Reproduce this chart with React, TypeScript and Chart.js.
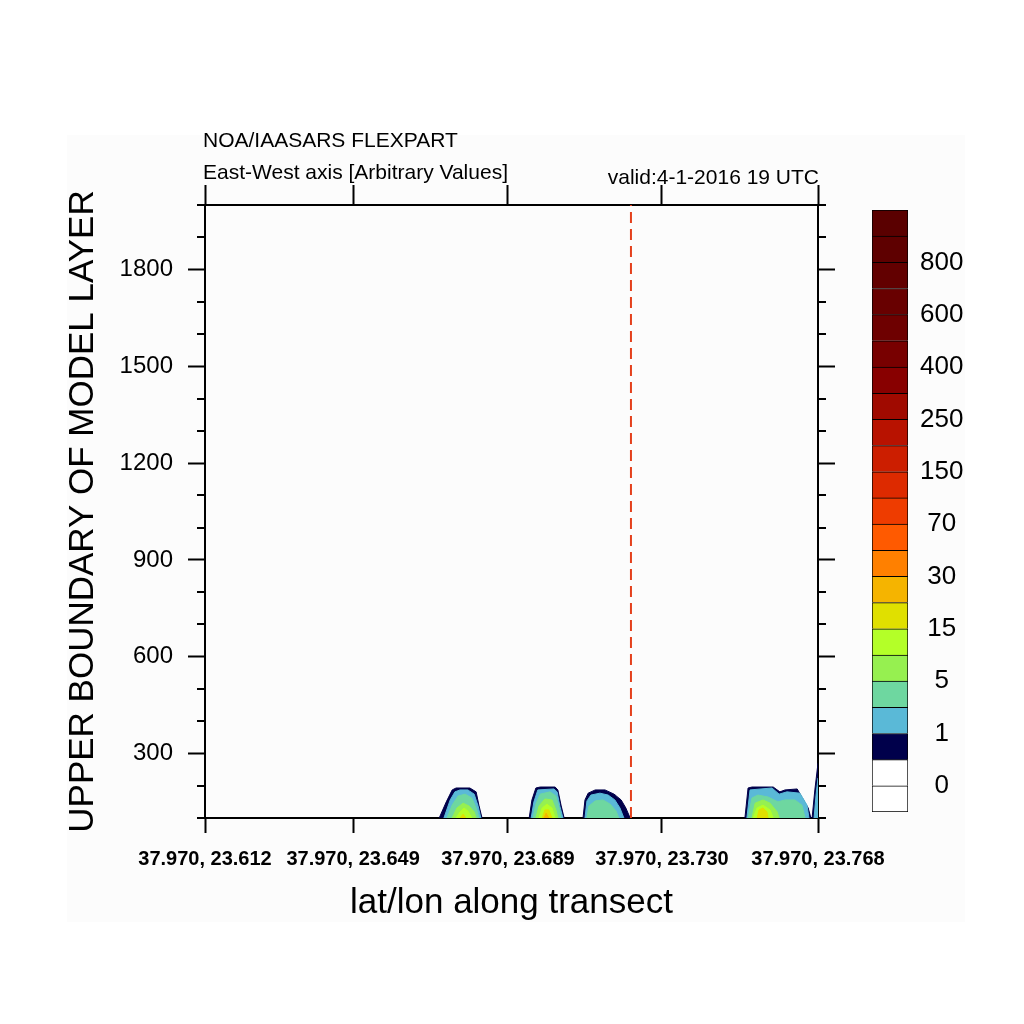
import React, { useEffect, useRef } from "react";
import { Chart, registerables } from "chart.js";

Chart.register(...registerables);

const FONT = "'Liberation Sans', Arial, Helvetica, sans-serif";

// ---- axes ----
const xMinLon = 23.612;
const xMaxLon = 23.768;
const yMin = 100;
const yMax = 2000;
const xTickLons = [23.612, 23.6497, 23.6891, 23.7283, 23.768];
const xTickLabels = [
  "37.970, 23.612",
  "37.970, 23.649",
  "37.970, 23.689",
  "37.970, 23.730",
  "37.970, 23.768",
];
const yMajorTicks = [300, 600, 900, 1200, 1500, 1800];
const yMinorTicks = [100, 200, 400, 500, 700, 800, 1000, 1100, 1300, 1400, 1600, 1700, 1900, 2000];
const markerLon = 23.7204;

// ---- texts ----
const headerTitle = "NOA/IAASARS FLEXPART";
const headerSubtitle = "East-West axis [Arbitrary Values]";
const validLabel = "valid:4-1-2016 19 UTC";
const xAxisTitle = "lat/lon along transect";
const yAxisTitle = "UPPER BOUNDARY OF MODEL LAYER";

// ---- contour outlines: [lon, height] per plume, one array per level ----
type Pt = [number, number];

const levelNavy: Pt[][] = [
  [[23.6716, 100], [23.6734, 150], [23.6749, 187], [23.6759, 193], [23.6794, 193], [23.681, 181], [23.6817, 140], [23.6825, 100]],
  [[23.6945, 100], [23.6952, 156], [23.6962, 193], [23.6973, 196], [23.7011, 196], [23.7018, 187], [23.7026, 140], [23.7034, 100]],
  [[23.7082, 100], [23.7087, 156], [23.7095, 177], [23.7113, 187], [23.7138, 187], [23.7161, 174], [23.7179, 156], [23.7191, 131], [23.7202, 100]],
  [[23.7494, 100], [23.7502, 193], [23.7512, 196], [23.7566, 196], [23.7583, 181], [23.7596, 187], [23.7627, 190], [23.7639, 165], [23.7655, 131], [23.7662, 100]],
  [[23.7665, 100], [23.7672, 187], [23.768, 270]],
];
const levelBlue: Pt[][] = [
  [[23.6728, 100], [23.6744, 156], [23.6756, 181], [23.6769, 187], [23.6789, 187], [23.6805, 174], [23.6815, 137], [23.6822, 100]],
  [[23.695, 100], [23.6957, 150], [23.6967, 187], [23.7008, 190], [23.7016, 181], [23.7023, 137], [23.7031, 100]],
  [[23.7087, 100], [23.7092, 153], [23.7102, 171], [23.7125, 177], [23.7146, 171], [23.7163, 156], [23.7176, 131], [23.7186, 100]],
  [[23.7499, 100], [23.7507, 187], [23.7563, 193], [23.7581, 174], [23.7601, 181], [23.7634, 177], [23.7652, 140], [23.7657, 100]],
  [[23.767, 100], [23.7675, 171], [23.768, 224]],
];
const levelTeal: Pt[][] = [
  [[23.6736, 100], [23.6749, 140], [23.6764, 168], [23.6782, 174], [23.6799, 162], [23.681, 131], [23.6817, 100]],
  [[23.6955, 100], [23.6962, 143], [23.6973, 174], [23.6998, 181], [23.7013, 168], [23.7021, 131], [23.7026, 100]],
  [[23.7092, 100], [23.7097, 137], [23.7113, 153], [23.7133, 156], [23.7151, 143], [23.7166, 122], [23.7173, 100]],
  [[23.7502, 100], [23.7512, 162], [23.7527, 171], [23.7553, 165], [23.7578, 150], [23.7596, 156], [23.7621, 156], [23.7639, 140], [23.7647, 100]],
];
const levelGreen: Pt[][] = [
  [[23.6749, 100], [23.6761, 131], [23.6777, 146], [23.6792, 137], [23.6805, 119], [23.681, 100]],
  [[23.6962, 100], [23.697, 137], [23.6985, 159], [23.7003, 156], [23.7013, 125], [23.7018, 100]],
  [[23.7512, 100], [23.752, 146], [23.754, 156], [23.7558, 146], [23.7576, 119], [23.7581, 100]],
];
const levelLime: Pt[][] = [
  [[23.6759, 100], [23.6769, 119], [23.6779, 131], [23.6789, 122], [23.6799, 100]],
  [[23.697, 100], [23.6978, 131], [23.699, 143], [23.7003, 131], [23.7011, 100]],
  [[23.7515, 100], [23.7525, 131], [23.754, 140], [23.7558, 125], [23.7566, 100]],
];
const levelYellow: Pt[][] = [
  [[23.6769, 100], [23.6777, 112], [23.6784, 100]],
  [[23.6978, 100], [23.6985, 125], [23.6995, 125], [23.7003, 100]],
  [[23.7525, 100], [23.753, 125], [23.754, 131], [23.755, 119], [23.7553, 100]],
];
const levelAmber: Pt[][] = [
  [[23.6983, 100], [23.6988, 115], [23.6995, 100]],
];

const contourLayers = [levelNavy, levelBlue, levelTeal, levelGreen, levelLime, levelYellow, levelAmber];
const contourColors = ["#00004b", "#5ab9d7", "#6ed7a0", "#96f050", "#b4ff28", "#e0e000", "#f5b400"];

// ---- colour bar ----
const colorbarColors = [
  "#ffffff", "#ffffff", "#00004b", "#5ab9d7", "#6ed7a0", "#96f050", "#b4ff28", "#e0e000",
  "#f5b400", "#ff8000", "#ff5a00", "#ee3c00", "#dd2a00", "#cc1e00", "#b81200", "#a00a00",
  "#880000", "#780000", "#6e0000", "#680000", "#620000", "#5e0000", "#5a0000",
];
const colorbarTickPositions = [1, 3, 5, 7, 9, 11, 13, 15, 17, 19, 21];
const colorbarLabels = ["0", "1", "5", "15", "30", "70", "150", "250", "400", "600", "800"];

const overlayPlugin = {
  id: "overlay",
  afterDraw(chart: any) {
    const { ctx, chartArea } = chart;
    const y = chart.scales.y;
    ctx.save();
    ctx.strokeStyle = "#000";
    ctx.lineWidth = 2;
    ctx.beginPath();
    for (const v of yMinorTicks) {
      const py = Math.round(y.getPixelForValue(v));
      ctx.moveTo(chartArea.left - 8, py);
      ctx.lineTo(chartArea.left, py);
      ctx.moveTo(chartArea.right, py);
      ctx.lineTo(chartArea.right + 8, py);
    }
    ctx.stroke();
    ctx.fillStyle = "#000";
    ctx.textBaseline = "middle";
    ctx.textAlign = "left";
    ctx.font = `21px ${FONT}`;
    ctx.fillText(headerTitle, chartArea.left - 2, chartArea.top - 64);
    ctx.fillText(headerSubtitle, chartArea.left - 2, chartArea.top - 32);
    ctx.textAlign = "right";
    ctx.fillText(validLabel, chartArea.right + 1, chartArea.top - 27);
    ctx.restore();
  },
};

export default function App() {
  const mainRef = useRef<HTMLCanvasElement>(null);
  const barRef = useRef<HTMLCanvasElement>(null);

  useEffect(() => {
    const datasets: any[] = [];
    contourLayers.forEach((layer, li) => {
      layer.forEach((blob) => {
        datasets.push({
          data: blob.map(([x, y]) => ({ x, y })),
          backgroundColor: contourColors[li],
          borderColor: contourColors[li],
          borderWidth: 1,
          pointRadius: 0,
          tension: 0,
          fill: "start",
          order: 100 - li,
        });
      });
    });
    datasets.push({
      data: [
        { x: markerLon, y: yMin },
        { x: markerLon, y: yMax },
      ],
      borderColor: "#e4401c",
      borderWidth: 2,
      borderDash: [11, 6],
      pointRadius: 0,
      fill: false,
      order: 0,
    });

    const main = new Chart(mainRef.current!, {
      type: "line",
      data: { datasets },
      plugins: [overlayPlugin],
      options: {
        animation: false,
        responsive: false,
        maintainAspectRatio: false,
        devicePixelRatio: 1,
        layout: { padding: { left: 0, top: 0, bottom: 0, right: 176 } },
        plugins: { legend: { display: false }, tooltip: { enabled: false } },
        scales: {
          x: {
            type: "linear",
            position: "bottom",
            min: xMinLon,
            max: xMaxLon,
            z: 1,
            afterBuildTicks: (s: any) => {
              s.ticks = xTickLons.map((v) => ({ value: v }));
            },
            afterFit: (s: any) => {
              s.height = 206;
            },
            ticks: {
              autoSkip: false,
              maxRotation: 0,
              minRotation: 0,
              padding: 14,
              color: "#000",
              font: { family: FONT, size: 20, weight: "bold" },
              callback: (_v: any, i: number) => xTickLabels[i] ?? "",
            },
            grid: { drawOnChartArea: false, tickLength: 15, tickWidth: 2, tickColor: "#000", color: "#000" },
            border: { display: true, color: "#000", width: 2 },
            title: {
              display: true,
              text: xAxisTitle,
              color: "#000",
              font: { family: FONT, size: 35 },
              padding: { top: 0, bottom: 100 },
            },
          },
          xTop: {
            type: "linear",
            position: "top",
            min: xMinLon,
            max: xMaxLon,
            z: 1,
            afterBuildTicks: (s: any) => {
              s.ticks = xTickLons.map((v) => ({ value: v }));
            },
            afterFit: (s: any) => {
              s.height = 205;
            },
            ticks: { display: false, autoSkip: false, maxRotation: 0 },
            grid: { drawOnChartArea: false, tickLength: 20, tickWidth: 2, tickColor: "#000", color: "#000" },
            border: { display: true, color: "#000", width: 2 },
          },
          y: {
            type: "linear",
            position: "left",
            min: yMin,
            max: yMax,
            z: 1,
            afterBuildTicks: (s: any) => {
              s.ticks = yMajorTicks.map((v) => ({ value: v }));
            },
            afterFit: (s: any) => {
              s.width = 205;
            },
            ticks: {
              padding: 15,
              color: "#000",
              font: { family: FONT, size: 24 },
              callback: (v: any) => String(v),
            },
            grid: { drawOnChartArea: false, tickLength: 17, tickWidth: 2, tickColor: "#000", color: "#000" },
            border: { display: true, color: "#000", width: 2 },
            title: {
              display: true,
              text: yAxisTitle,
              color: "#000",
              font: { family: FONT, size: 35 },
              padding: { top: 62, bottom: 0 },
            },
          },
          yRight: {
            type: "linear",
            position: "right",
            min: yMin,
            max: yMax,
            z: 1,
            afterBuildTicks: (s: any) => {
              s.ticks = yMajorTicks.map((v) => ({ value: v }));
            },
            afterFit: (s: any) => {
              s.width = 30;
            },
            ticks: { display: false },
            grid: { drawOnChartArea: false, tickLength: 17, tickWidth: 2, tickColor: "#000", color: "#000" },
            border: { display: true, color: "#000", width: 2 },
          },
        },
      } as any,
    });

    const bar = new Chart(barRef.current!, {
      type: "bar",
      data: {
        labels: [""],
        datasets: colorbarColors.map((c, i) => ({
          data: [1],
          backgroundColor: c,
          borderColor: "#000",
          borderWidth: { top: 1, left: 1, right: 1, bottom: i === 0 ? 1 : 0 },
          borderSkipped: false,
          barPercentage: 1,
          categoryPercentage: 1,
        })),
      },
      options: {
        animation: false,
        responsive: false,
        maintainAspectRatio: false,
        devicePixelRatio: 1,
        layout: { padding: { left: 12, top: 20, bottom: 18, right: 12 } },
        plugins: { legend: { display: false }, tooltip: { enabled: false } },
        scales: {
          x: { stacked: true, display: false },
          y: {
            stacked: true,
            position: "right",
            min: 0,
            max: colorbarColors.length,
            afterBuildTicks: (s: any) => {
              s.ticks = colorbarTickPositions.map((v) => ({ value: v }));
            },
            afterFit: (s: any) => {
              s.width = 60;
              s.paddingTop = 0;
              s.paddingBottom = 0;
            },
            ticks: {
              padding: 12,
              crossAlign: "center",
              color: "#000",
              font: { family: FONT, size: 26 },
              callback: (_v: any, i: number) => colorbarLabels[i] ?? "",
            },
            grid: { display: false, drawTicks: false },
            border: { display: false },
          },
        },
      } as any,
    });

    return () => {
      main.destroy();
      bar.destroy();
    };
  }, []);

  return (
    <div style={{ position: "absolute", left: 0, top: 0, width: 1024, height: 1024, background: "#ffffff", overflow: "hidden" }}>
      <div style={{ position: "absolute", left: 67, top: 135, width: 898, height: 787, background: "#fcfcfc" }} />
      <canvas ref={mainRef} width={1024} height={1024} style={{ position: "absolute", left: 0, top: 0, width: 1024, height: 1024 }} />
      <canvas ref={barRef} width={120} height={640} style={{ position: "absolute", left: 860, top: 190, width: 120, height: 640 }} />
    </div>
  );
}
